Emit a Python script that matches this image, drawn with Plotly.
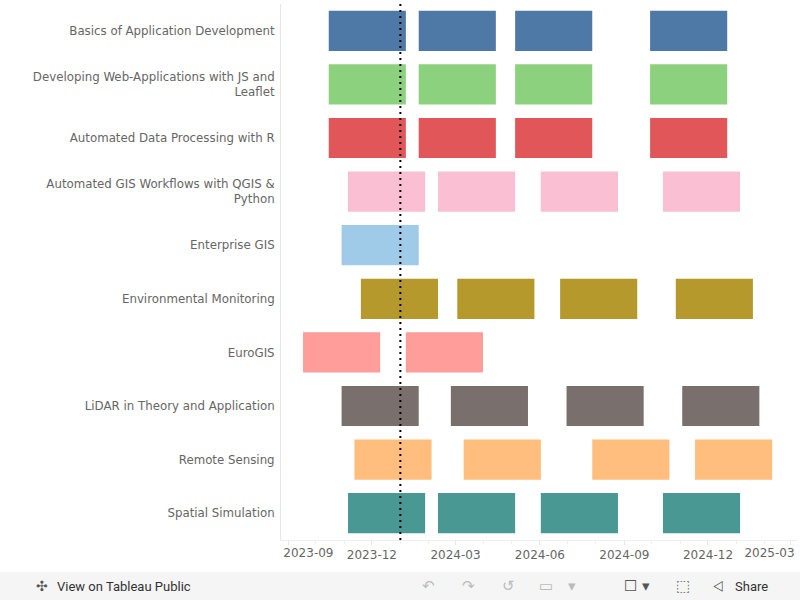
import plotly.graph_objects as go
import pandas as pd

# ---- data ----
courses = [
    "Basics of Application Development",
    "Developing Web-Applications with JS and Leaflet",
    "Automated Data Processing with R",
    "Automated GIS Workflows with QGIS & Python",
    "Enterprise GIS",
    "Environmental Monitoring",
    "EuroGIS",
    "LiDAR in Theory and Application",
    "Remote Sensing",
    "Spatial Simulation",
]
course_labels = [
    "Basics of Application Development",
    "Developing Web-Applications with JS and<br>Leaflet",
    "Automated Data Processing with R",
    "Automated GIS Workflows with QGIS &<br>Python",
    "Enterprise GIS",
    "Environmental Monitoring",
    "EuroGIS",
    "LiDAR in Theory and Application",
    "Remote Sensing",
    "Spatial Simulation",
]
starts = [
    ["2023-10-15", "2024-01-21", "2024-05-05", "2024-09-29"],
    ["2023-10-15", "2024-01-21", "2024-05-05", "2024-09-29"],
    ["2023-10-15", "2024-01-21", "2024-05-05", "2024-09-29"],
    ["2023-11-05", "2024-02-11", "2024-06-02", "2024-10-13"],
    ["2023-10-29"],
    ["2023-11-19", "2024-03-03", "2024-06-23", "2024-10-27"],
    ["2023-09-17", "2024-01-07"],
    ["2023-10-29", "2024-02-25", "2024-06-30", "2024-11-03"],
    ["2023-11-12", "2024-03-10", "2024-07-28", "2024-11-17"],
    ["2023-11-05", "2024-02-11", "2024-06-02", "2024-10-13"],
]
ends = [
    ["2024-01-07", "2024-04-14", "2024-07-28", "2024-12-22"],
    ["2024-01-07", "2024-04-14", "2024-07-28", "2024-12-22"],
    ["2024-01-07", "2024-04-14", "2024-07-28", "2024-12-22"],
    ["2024-01-28", "2024-05-05", "2024-08-25", "2025-01-05"],
    ["2024-01-21"],
    ["2024-02-11", "2024-05-26", "2024-09-15", "2025-01-19"],
    ["2023-12-10", "2024-03-31"],
    ["2024-01-21", "2024-05-19", "2024-09-22", "2025-01-26"],
    ["2024-02-04", "2024-06-02", "2024-10-20", "2025-02-09"],
    ["2024-01-28", "2024-05-05", "2024-08-25", "2025-01-05"],
]
colors = ["#4E79A7", "#8CD17D", "#E15759", "#FABFD2", "#A0CBE8",
          "#B6992D", "#FF9D9A", "#79706E", "#FFBE7D", "#499894"]
today = "2024-01-01"
tick_dates = ["2023-09-01", "2023-12-01", "2024-03-01", "2024-06-01",
              "2024-09-01", "2024-12-01", "2025-03-01"]
tick_labels = ["2023-09", "2023-12", "2024-03", "2024-06",
               "2024-09", "2024-12", "2025-03"]
x_range = ["2023-08-24", "2025-03-08"]

FONT = "DejaVu Sans"


def bar_trace(name, s_list, e_list, col, xaxis="x", visible_marks=True):
    s = pd.to_datetime(s_list)
    e = pd.to_datetime(e_list)
    dur = [(b - a).total_seconds() * 1000 for a, b in zip(s, e)]
    return go.Bar(
        orientation="h",
        y=[name] * len(s_list),
        base=[d.strftime("%Y-%m-%d") for d in s],
        x=dur,
        xaxis=xaxis,
        marker=dict(color=col, line=dict(width=0)),
        opacity=1 if visible_marks else 0,
        hoverinfo=None if visible_marks else "skip",
        width=0.75,
        showlegend=False,
        name=name,
    )


fig = go.Figure()
for name, s_list, e_list, col in zip(courses, starts, ends, colors):
    fig.add_trace(bar_trace(name, s_list, e_list, col))
# transparent copies so the overlay label axes get drawn
fig.add_trace(bar_trace(courses[6], starts[6], ends[6], colors[6], "x2", False))
fig.add_trace(bar_trace(courses[6], starts[6], ends[6], colors[6], "x3", False))

fig.add_shape(type="line", xref="x", yref="paper", x0=today, x1=today,
              y0=0, y1=1, line=dict(color="black", width=2, dash="2px,4px"))

# toolbar strip (Tableau Public footer)
px_w, px_h = 516.0, 536.0
def pxx(v):
    return (v - 281) / px_w
def pxy(v):
    return (540 - v) / px_h

fig.add_shape(type="rect", xref="paper", yref="paper",
              x0=pxx(0), x1=pxx(800), y0=pxy(600), y1=pxy(572),
              fillcolor="#f5f5f5", line=dict(width=0), layer="below")
fig.add_annotation(xref="paper", yref="paper", x=pxx(55), y=pxy(586),
                   text="View on Tableau Public", showarrow=False,
                   xanchor="left", yanchor="middle",
                   font=dict(family="Liberation Sans Narrow, Roboto", size=13, color="#333333"))
fig.add_annotation(xref="paper", yref="paper", x=pxx(34), y=pxy(586),
                   text="\u2723", showarrow=False, xanchor="left", yanchor="middle",
                   font=dict(family=FONT, size=14, color="#555555"))
fig.add_annotation(xref="paper", yref="paper", x=pxx(733), y=pxy(586),
                   text="Share", showarrow=False, xanchor="left", yanchor="middle",
                   font=dict(family="Liberation Sans Narrow, Roboto", size=13, color="#333333"))
fig.add_annotation(xref="paper", yref="paper", x=pxx(711), y=pxy(586),
                   text="\u2a1e", showarrow=False, xanchor="left", yanchor="middle",
                   font=dict(family=FONT, size=13, color="#555555"))
icons = [(420, "\u21b6", "#bbbbbb"), (460, "\u21b7", "#bbbbbb"), (500, "\u21ba", "#bbbbbb"),
         (537, "\u25ad", "#bbbbbb"), (566, "\u25be", "#bbbbbb"), (622, "\u2610", "#555555"),
         (640, "\u25be", "#555555"), (674, "\u2b1a", "#555555")]
for xx, ch, col in icons:
    fig.add_annotation(xref="paper", yref="paper", x=pxx(xx), y=pxy(586),
                       text=ch, showarrow=False, xanchor="left", yanchor="middle",
                       font=dict(family=FONT, size=15, color=col))

tickfont = dict(family=FONT, size=12, color="#666666")
# interior labels on main axis; edge labels on overlay axes (shifted inward like Tableau)
main_text = [""] + tick_labels[1:-1] + [""]

fig.update_layout(
    width=800, height=600,
    margin=dict(l=281, r=3, t=4, b=60),
    paper_bgcolor="white", plot_bgcolor="white",
    barmode="overlay",
    font=dict(family=FONT, color="#666666"),
    xaxis=dict(
        type="date", range=x_range,
        tickvals=tick_dates, ticktext=main_text,
        showgrid=False, zeroline=False,
        showline=True, linecolor="#eeeeee", linewidth=1,
        ticks="outside", ticklen=4, tickcolor="#e6e6e6",
        minor=dict(dtick="M1", ticks="outside", ticklen=3, tickcolor="#eeeeee", showgrid=False),
        tickfont=tickfont,
        fixedrange=True,
    ),
    xaxis2=dict(
        type="date", range=x_range, overlaying="x", side="bottom", anchor="y",
        tickvals=[tick_dates[-1]], ticktext=[tick_labels[-1]],
        ticklabelposition="outside left", ticklabelshift=4, ticklabelstandoff=4,
        showgrid=False, zeroline=False, showline=False, ticks="",
        tickfont=tickfont, fixedrange=True,
    ),
    xaxis3=dict(
        type="date", range=x_range, overlaying="x", side="bottom", anchor="y",
        tickvals=[tick_dates[0]], ticktext=[tick_labels[0]],
        ticklabelposition="outside right", ticklabelshift=-5, ticklabelstandoff=4,
        showgrid=False, zeroline=False, showline=False, ticks="",
        tickfont=tickfont, fixedrange=True,
    ),
    yaxis=dict(
        categoryorder="array", categoryarray=courses,
        tickvals=courses, ticktext=course_labels,
        autorange="reversed",
        showgrid=False, zeroline=False,
        showline=True, linecolor="#e6e6e6", linewidth=1,
        ticks="", ticklabelstandoff=3,
        tickfont=dict(family=FONT, size=11.8, color="#666666"),
        fixedrange=True,
    ),
)

fig.write_html(
    "out.html",
    config={"displayModeBar": False},
    post_script="document.body.style.margin='0';document.body.style.overflow='hidden';",
)
